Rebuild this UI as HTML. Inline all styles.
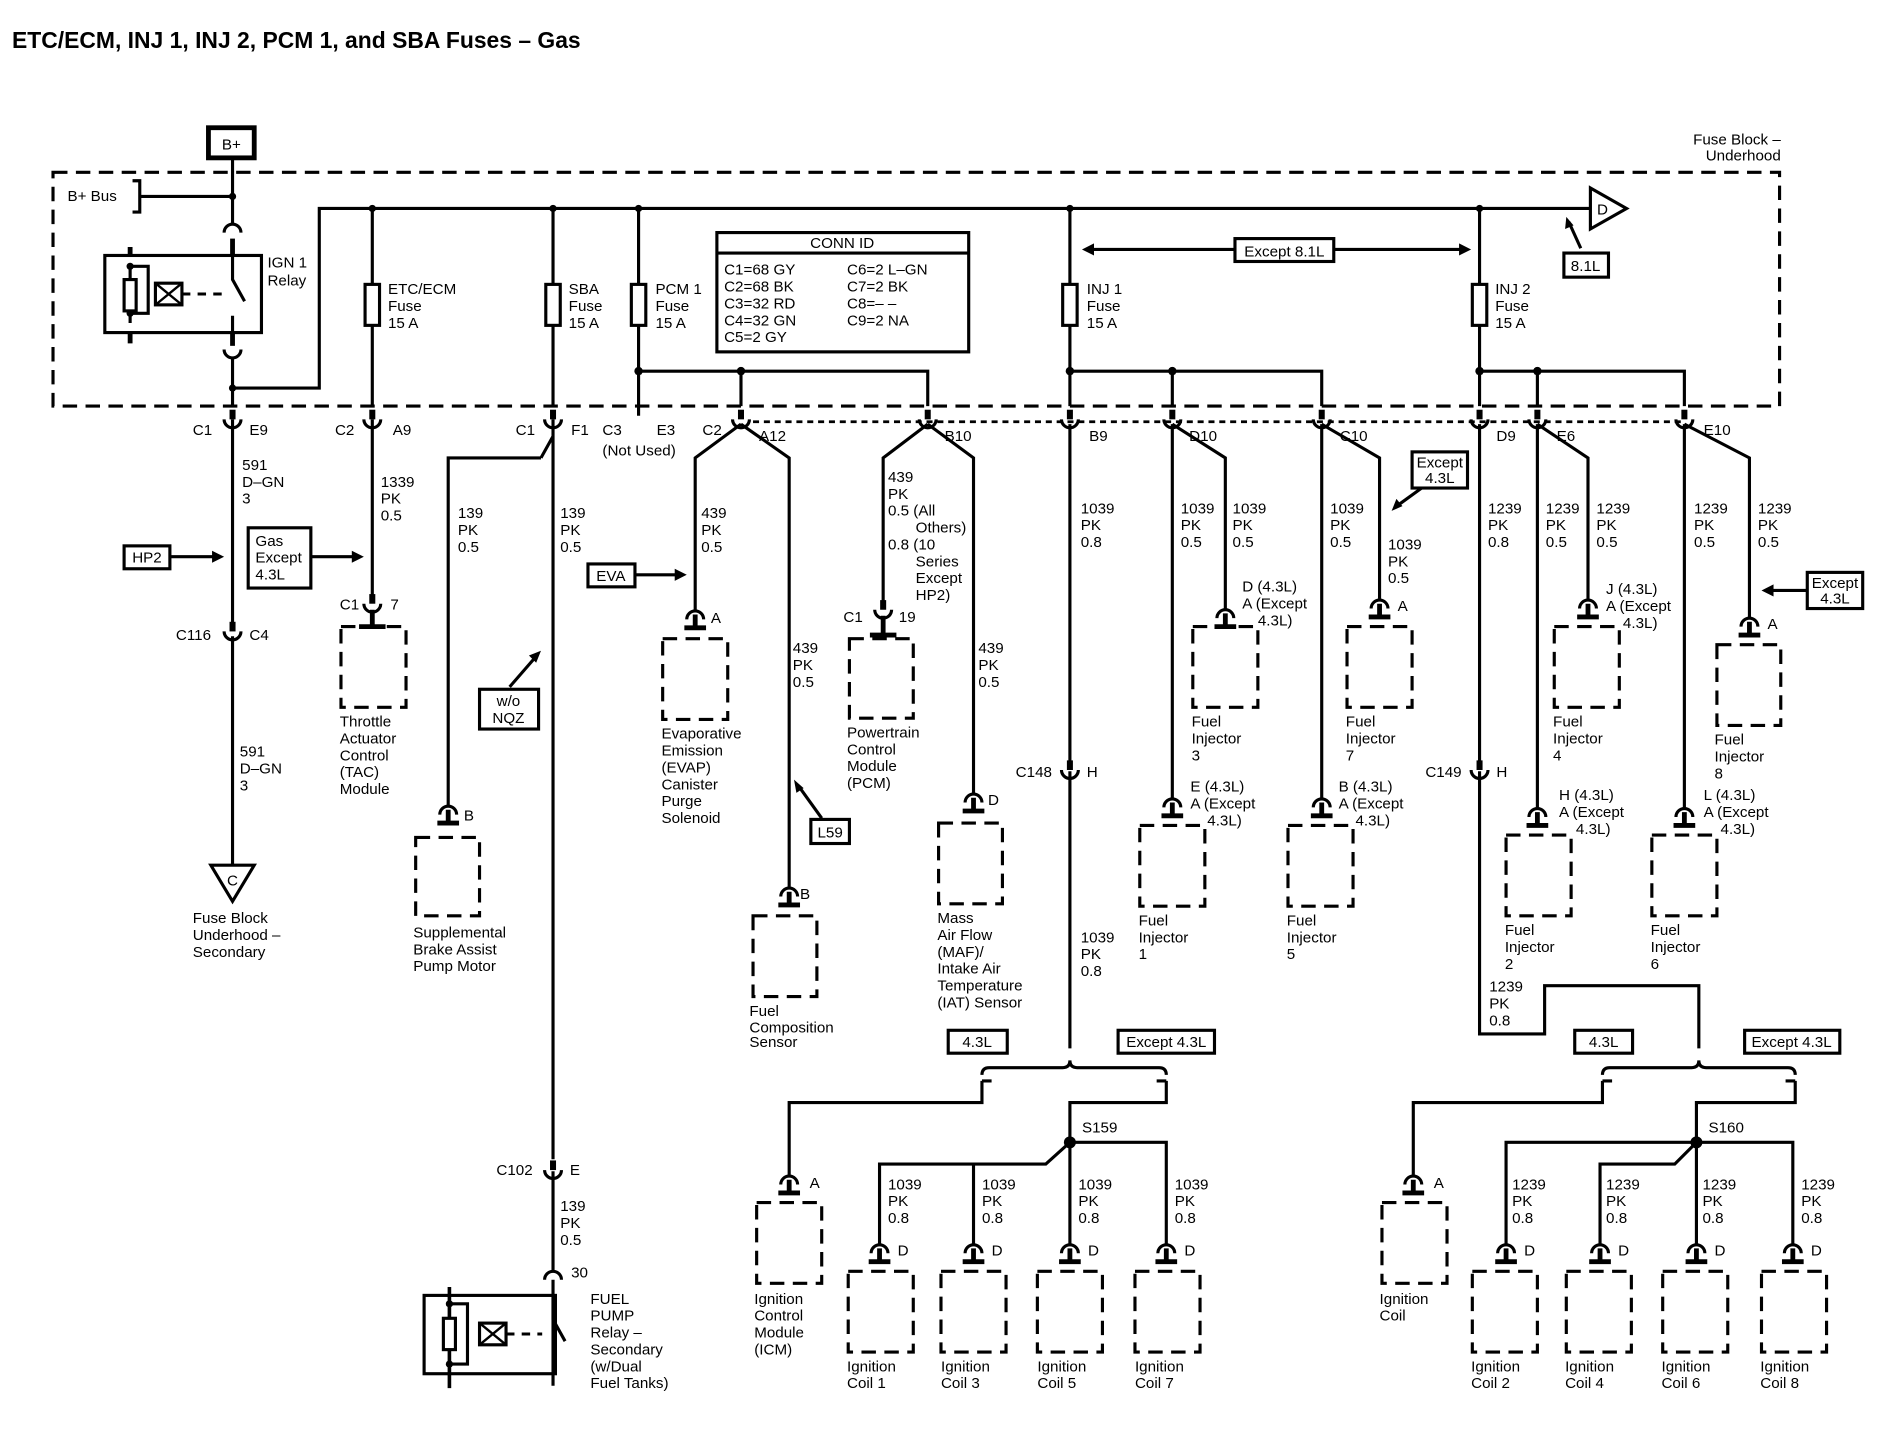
<!DOCTYPE html>
<html><head><meta charset="utf-8"><style>
html,body{margin:0;padding:0;background:#fff;}
svg{display:block}
text{font-family:"Liberation Sans",sans-serif;font-size:12.6px;fill:#000}
.w{stroke:#000;stroke-width:2.6;fill:none}
.d{stroke:#000;stroke-width:2.6;fill:none;stroke-dasharray:12 7}
.b{stroke:#000;stroke-width:2.6;fill:#fff}
</style></head><body>
<svg width="1888" height="1440" viewBox="0 0 1567 1195" preserveAspectRatio="none" xmlns="http://www.w3.org/2000/svg">
<defs>
<g id="term"><path d="M-7,8 A7,7 0 0 1 7,8" class="w"/><path d="M0,4 V15 M-9,15 H9" stroke="#000" stroke-width="4"/></g>
<g id="conn"><path d="M0,-12 V-4" stroke="#000" stroke-width="5"/><path d="M-7,-4 A7,7 0 0 0 7,-4" class="w"/></g>
</defs>
<text x="10" y="40" style="font-size:19px;font-weight:bold">ETC/ECM, INJ 1, INJ 2, PCM 1, and SBA Fuses – Gas</text>

<!-- fuse block -->
<rect x="44" y="143" width="1433" height="194" class="d"/>
<text x="1478" y="120" text-anchor="end">Fuse Block –</text>
<text x="1478" y="133" text-anchor="end">Underhood</text>
<rect x="173" y="106" width="38" height="25" fill="#fff" stroke="#000" stroke-width="4"/>
<text x="192" y="124" text-anchor="middle">B+</text>
<path d="M193,131 V186 M110,150 H116 V176 H110 M116,163 H193" class="w"/>
<text x="56" y="167">B+ Bus</text>
<circle cx="193" cy="163" r="3"/>
<path d="M186,193 A7,7 0 0 1 200,193" class="w"/>
<path d="M193,198 V212" stroke="#000" stroke-width="4"/>
<rect x="87" y="212" width="130" height="64" class="w"/>
<path d="M108,205 V212 M108,276 V285" stroke="#000" stroke-width="4"/>
<path d="M108,220 V268 M108,221 H123 V260 H108" class="w"/>
<circle cx="108" cy="221" r="3"/><circle cx="108" cy="260" r="3"/>
<rect x="103" y="232" width="10" height="26" class="b"/>
<rect x="129" y="235" width="22" height="18" class="b" stroke-width="2.6"/>
<path d="M129,235 L151,253 M151,235 L129,253" stroke="#000" stroke-width="2"/>
<path d="M151,244 H186" stroke="#000" stroke-width="2.5" stroke-dasharray="7 6"/>
<path d="M193,212 V232 L203,250 M193,262 V276" class="w"/>
<text x="222" y="222">IGN 1</text><text x="222" y="237">Relay</text>
<path d="M193,276 V287" stroke="#000" stroke-width="4"/>
<path d="M186,290 A7,7 0 0 0 200,290" class="w"/>
<path d="M193,297 V337 M193,322 H265 V173 H1320" class="w"/>
<circle cx="193" cy="322" r="3"/>
<path d="M1320,156 L1350,173 L1320,190 Z" class="b"/>
<text x="1330" y="178" text-anchor="middle">D</text>
<rect x="1298" y="210" width="37" height="20" class="b"/><text x="1316" y="225" text-anchor="middle">8.1L</text>
<path d="M1312,206 L1302,184" class="w"/><path d="M1300,180 l-1,10 l7,-3 z"/>

<!-- branches -->
<path d="M309,173 V337 M459,173 V337 M530,173 V345 M888,173 V337 M1228,173 V337" class="w"/>
<g fill="#000"><circle cx="309" cy="173" r="3"/><circle cx="459" cy="173" r="3"/><circle cx="530" cy="173" r="3"/><circle cx="888" cy="173" r="3"/><circle cx="1228" cy="173" r="3"/></g>
<rect x="303" y="236" width="12" height="34" class="b"/><rect x="453" y="236" width="12" height="34" class="b"/><rect x="524" y="236" width="12" height="34" class="b"/><rect x="882" y="236" width="12" height="34" class="b"/><rect x="1222" y="236" width="12" height="34" class="b"/>
<text x="322" y="244">ETC/ECM</text><text x="322" y="258">Fuse</text><text x="322" y="272">15 A</text>
<text x="472" y="244">SBA</text><text x="472" y="258">Fuse</text><text x="472" y="272">15 A</text>
<text x="544" y="244">PCM 1</text><text x="544" y="258">Fuse</text><text x="544" y="272">15 A</text>
<text x="902" y="244">INJ 1</text><text x="902" y="258">Fuse</text><text x="902" y="272">15 A</text>
<text x="1241" y="244">INJ 2</text><text x="1241" y="258">Fuse</text><text x="1241" y="272">15 A</text>

<rect x="595" y="193" width="209" height="99" class="w"/><path d="M595,210 H804" class="w"/>
<text x="699" y="206" text-anchor="middle">CONN ID</text>
<text x="601" y="228">C1=68 GY</text><text x="601" y="242">C2=68 BK</text><text x="601" y="256">C3=32 RD</text><text x="601" y="270">C4=32 GN</text><text x="601" y="284">C5=2 GY</text>
<text x="703" y="228">C6=2 L–GN</text><text x="703" y="242">C7=2 BK</text><text x="703" y="256">C8=– –</text><text x="703" y="270">C9=2 NA</text>

<path d="M905,207 H1213" class="w"/><path d="M898,207 l10,-5 v10 z M1221,207 l-10,-5 v10 z"/>
<rect x="1025" y="198" width="82" height="19" class="b"/><text x="1066" y="213" text-anchor="middle">Except 8.1L</text>

<path d="M530,308 H770 V337 M615,308 V337 M888,308 H1097 V337 M973,308 V337 M1228,308 H1398 V337 M1276,308 V337" class="w"/>
<g fill="#000"><circle cx="530" cy="308" r="3.5"/><circle cx="615" cy="308" r="3.5"/><circle cx="888" cy="308" r="3.5"/><circle cx="973" cy="308" r="3.5"/><circle cx="1228" cy="308" r="3.5"/><circle cx="1276" cy="308" r="3.5"/></g>
<path d="M625,350 H1398" stroke="#000" stroke-width="2.2" stroke-dasharray="5 4"/>

<!-- connector row -->
<use href="#conn" x="193" y="352"/><use href="#conn" x="309" y="352"/><use href="#conn" x="459" y="352"/><use href="#conn" x="615" y="352"/><use href="#conn" x="770" y="352"/><use href="#conn" x="888" y="352"/><use href="#conn" x="973" y="352"/><use href="#conn" x="1097" y="352"/><use href="#conn" x="1228" y="352"/><use href="#conn" x="1276" y="352"/><use href="#conn" x="1398" y="352"/>
<text x="160" y="361">C1</text><text x="207" y="361">E9</text>
<text x="278" y="361">C2</text><text x="326" y="361">A9</text>
<text x="428" y="361">C1</text><text x="474" y="361">F1</text>
<text x="500" y="361">C3</text><text x="545" y="361">E3</text><text x="500" y="378">(Not Used)</text>
<text x="583" y="361">C2</text><text x="630" y="366">A12</text>
<text x="784" y="366">B10</text><text x="904" y="366">B9</text><text x="987" y="366">D10</text><text x="1112" y="366">C10</text><text x="1242" y="366">D9</text><text x="1292" y="366">E6</text><text x="1414" y="361">E10</text>

<!-- IGN column -->
<path d="M193,348 V518 M193,528 V718" class="w"/>
<use href="#conn" x="193" y="528"/>
<text x="146" y="531">C116</text><text x="207" y="531">C4</text>
<text x="201" y="390">591</text><text x="201" y="404">D–GN</text><text x="201" y="418">3</text>
<text x="199" y="628">591</text><text x="199" y="642">D–GN</text><text x="199" y="656">3</text>
<path d="M175,718 H211 L193,748 Z" class="b"/><text x="193" y="735" text-anchor="middle">C</text>
<text x="160" y="766">Fuse Block</text><text x="160" y="780">Underhood –</text><text x="160" y="794">Secondary</text>
<rect x="103" y="453" width="38" height="19" class="b"/><text x="122" y="467" text-anchor="middle">HP2</text>
<path d="M141,462 H178" class="w"/><path d="M186,462 l-10,-5 v10 z"/>
<rect x="206" y="438" width="52" height="50" class="b"/><text x="212" y="453">Gas</text><text x="212" y="467">Except</text><text x="212" y="481">4.3L</text>
<path d="M258,462 H294" class="w"/><path d="M302,462 l-10,-5 v10 z"/>

<!-- ETC -->
<path d="M309,348 V500" class="w"/><use href="#conn" x="309" y="505"/>
<text x="282" y="506">C1</text><text x="324" y="506">7</text>
<text x="316" y="404">1339</text><text x="316" y="418">PK</text><text x="316" y="432">0.5</text>
<path d="M309,506 V520 M298,520 H320" stroke="#000" stroke-width="4"/>
<rect x="283" y="520" width="54" height="67" class="d"/>
<text x="282" y="603">Throttle</text><text x="282" y="617">Actuator</text><text x="282" y="631">Control</text><text x="282" y="645">(TAC)</text><text x="282" y="659">Module</text>

<!-- SBA -->
<path d="M459,348 V962 M459,972 V1055 M459,1062 V1150 M449,380 L459,362 M449,380 H372 V668" class="w"/>
<text x="380" y="430">139</text><text x="380" y="444">PK</text><text x="380" y="458">0.5</text>
<text x="465" y="430">139</text><text x="465" y="444">PK</text><text x="465" y="458">0.5</text>
<rect x="398" y="572" width="49" height="33" class="b"/><text x="422" y="586" text-anchor="middle">w/o</text><text x="422" y="600" text-anchor="middle">NQZ</text>
<path d="M423,570 L443,547" class="w"/><path d="M449,540 l-10,4 l6,6 z"/>
<use href="#term" x="372" y="668"/><text x="385" y="681">B</text>
<rect x="345" y="695" width="53" height="65" class="d"/>
<text x="343" y="778">Supplemental</text><text x="343" y="792">Brake Assist</text><text x="343" y="806">Pump Motor</text>
<use href="#conn" x="459" y="975"/><text x="412" y="975">C102</text><text x="473" y="975">E</text>
<text x="465" y="1005">139</text><text x="465" y="1019">PK</text><text x="465" y="1033">0.5</text>
<path d="M452,1062 A7,7 0 0 1 466,1062" class="w"/><text x="474" y="1060">30</text>
<rect x="352" y="1075" width="109" height="65" class="w"/>
<path d="M373,1068 V1152" stroke="#000" stroke-width="3"/>
<path d="M373,1082 H388 V1132 H373" class="w"/>
<circle cx="373" cy="1082" r="3"/><circle cx="373" cy="1132" r="3"/>
<rect x="368" y="1094" width="10" height="26" class="b"/>
<rect x="398" y="1098" width="22" height="18" class="b"/><path d="M398,1098 L420,1116 M420,1098 L398,1116" stroke="#000" stroke-width="2"/>
<path d="M420,1107 H450" stroke="#000" stroke-width="2.5" stroke-dasharray="7 6"/>
<path d="M459,1075 V1095 L469,1113" class="w"/>
<text x="490" y="1082">FUEL</text><text x="490" y="1096">PUMP</text><text x="490" y="1110">Relay –</text><text x="490" y="1124">Secondary</text><text x="490" y="1138">(w/Dual</text><text x="490" y="1152">Fuel Tanks)</text>

<!-- PCM1 A12 -->
<path d="M615,352 L577,380 V506 M615,352 L655,380 V736" class="w"/>
<text x="582" y="430">439</text><text x="582" y="444">PK</text><text x="582" y="458">0.5</text>
<rect x="488" y="468" width="39" height="19" class="b"/><text x="507" y="482" text-anchor="middle">EVA</text>
<path d="M527,477 H562" class="w"/><path d="M570,477 l-10,-5 v10 z"/>
<use href="#term" x="577" y="506"/><text x="590" y="517">A</text>
<rect x="550" y="530" width="54" height="67" class="d"/>
<text x="549" y="613">Evaporative</text><text x="549" y="627">Emission</text><text x="549" y="641">(EVAP)</text><text x="549" y="655">Canister</text><text x="549" y="669">Purge</text><text x="549" y="683">Solenoid</text>
<text x="658" y="542">439</text><text x="658" y="556">PK</text><text x="658" y="570">0.5</text>
<rect x="673" y="680" width="32" height="20" class="b"/><text x="689" y="695" text-anchor="middle">L59</text>
<path d="M682,679 L664,654" class="w"/><path d="M659,647 l2,11 l6,-4 z"/>
<use href="#term" x="655" y="736"/><text x="664" y="746">B</text>
<rect x="625" y="760" width="53" height="67" class="d"/>
<text x="622" y="843">Fuel</text><text x="622" y="857">Composition</text><text x="622" y="869">Sensor</text>

<!-- B10 -->
<path d="M770,352 L733,380 V500 M770,352 L808,380 V660" class="w"/>
<use href="#conn" x="733" y="510"/><text x="700" y="516">C1</text><text x="746" y="516">19</text>
<path d="M733,511 V527 M722,527 H744" stroke="#000" stroke-width="4"/>
<rect x="705" y="530" width="53" height="66" class="d"/>
<text x="703" y="612">Powertrain</text><text x="703" y="626">Control</text><text x="703" y="640">Module</text><text x="703" y="654">(PCM)</text>
<text x="737" y="400">439</text><text x="737" y="414">PK</text><text x="737" y="428">0.5 (All</text><text x="760" y="442">Others)</text><text x="737" y="456">0.8 (10</text><text x="760" y="470">Series</text><text x="760" y="484">Except</text><text x="760" y="498">HP2)</text>
<text x="812" y="542">439</text><text x="812" y="556">PK</text><text x="812" y="570">0.5</text>
<use href="#term" x="808" y="658"/><text x="820" y="668">D</text>
<rect x="779" y="683" width="53" height="67" class="d"/>
<text x="778" y="766">Mass</text><text x="778" y="780">Air Flow</text><text x="778" y="794">(MAF)/</text><text x="778" y="808">Intake Air</text><text x="778" y="822">Temperature</text><text x="778" y="836">(IAT) Sensor</text>

<!-- INJ1 -->
<path d="M888,352 V632 M888,640 V870" class="w"/>
<use href="#conn" x="888" y="643"/><text x="843" y="645">C148</text><text x="902" y="645">H</text>
<text x="897" y="426">1039</text><text x="897" y="440">PK</text><text x="897" y="454">0.8</text>
<text x="897" y="782">1039</text><text x="897" y="796">PK</text><text x="897" y="810">0.8</text>
<rect x="787" y="855" width="49" height="19" class="b"/><text x="811" y="869" text-anchor="middle">4.3L</text>
<rect x="928" y="855" width="80" height="19" class="b"/><text x="968" y="869" text-anchor="middle">Except 4.3L</text>
<path d="M815,892 q0,-6 6,-6 H882 q6,0 6,-6 q0,6 6,6 H962 q6,0 6,6" class="w"/>
<path d="M815,897 h8 M815,897 V915 H655 V975 M968,897 h-8 M968,897 V915 H888 V948" class="w"/>
<circle cx="888" cy="948" r="5"/><text x="898" y="940">S159</text>
<path d="M888,948 V1032 M888,948 H968 V1032 M888,948 L868,966 H808 V1032 M868,966 H730 V1032" class="w"/>
<use href="#term" x="655" y="975"/><text x="672" y="986">A</text>
<rect x="628" y="998" width="54" height="67" class="d"/>
<text x="626" y="1082">Ignition</text><text x="626" y="1096">Control</text><text x="626" y="1110">Module</text><text x="626" y="1124">(ICM)</text>
<use href="#term" x="730" y="1032"/><use href="#term" x="808" y="1032"/><use href="#term" x="888" y="1032"/><use href="#term" x="968" y="1032"/>
<rect x="704" y="1055" width="54" height="67" class="d"/><rect x="781" y="1055" width="54" height="67" class="d"/><rect x="861" y="1055" width="54" height="67" class="d"/><rect x="942" y="1055" width="54" height="67" class="d"/>
<text x="745" y="1042">D</text><text x="823" y="1042">D</text><text x="903" y="1042">D</text><text x="983" y="1042">D</text>
<text x="737" y="987">1039</text><text x="737" y="1001">PK</text><text x="737" y="1015">0.8</text>
<text x="815" y="987">1039</text><text x="815" y="1001">PK</text><text x="815" y="1015">0.8</text>
<text x="895" y="987">1039</text><text x="895" y="1001">PK</text><text x="895" y="1015">0.8</text>
<text x="975" y="987">1039</text><text x="975" y="1001">PK</text><text x="975" y="1015">0.8</text>
<text x="703" y="1138">Ignition</text><text x="703" y="1152">Coil 1</text>
<text x="781" y="1138">Ignition</text><text x="781" y="1152">Coil 3</text>
<text x="861" y="1138">Ignition</text><text x="861" y="1152">Coil 5</text>
<text x="942" y="1138">Ignition</text><text x="942" y="1152">Coil 7</text>

<!-- D10 / C10 -->
<path d="M973,352 V662 M973,352 L1017,380 V505 M1097,352 V662 M1097,352 L1145,380 V497" class="w"/>
<text x="980" y="426">1039</text><text x="980" y="440">PK</text><text x="980" y="454">0.5</text>
<text x="1023" y="426">1039</text><text x="1023" y="440">PK</text><text x="1023" y="454">0.5</text>
<text x="1104" y="426">1039</text><text x="1104" y="440">PK</text><text x="1104" y="454">0.5</text>
<text x="1152" y="456">1039</text><text x="1152" y="470">PK</text><text x="1152" y="484">0.5</text>
<use href="#term" x="1017" y="505"/><text x="1031" y="491">D (4.3L)</text><text x="1031" y="505">A (Except</text><text x="1044" y="519">4.3L)</text>
<rect x="990" y="520" width="54" height="67" class="d"/>
<text x="989" y="603">Fuel</text><text x="989" y="617">Injector</text><text x="989" y="631">3</text>
<use href="#term" x="973" y="662"/><text x="988" y="657">E (4.3L)</text><text x="988" y="671">A (Except</text><text x="1002" y="685">4.3L)</text>
<rect x="946" y="685" width="54" height="67" class="d"/>
<text x="945" y="768">Fuel</text><text x="945" y="782">Injector</text><text x="945" y="796">1</text>
<use href="#term" x="1145" y="497"/><text x="1160" y="507">A</text>
<rect x="1118" y="520" width="54" height="67" class="d"/>
<text x="1117" y="603">Fuel</text><text x="1117" y="617">Injector</text><text x="1117" y="631">7</text>
<use href="#term" x="1097" y="662"/><text x="1111" y="657">B (4.3L)</text><text x="1111" y="671">A (Except</text><text x="1125" y="685">4.3L)</text>
<rect x="1069" y="685" width="54" height="67" class="d"/>
<text x="1068" y="768">Fuel</text><text x="1068" y="782">Injector</text><text x="1068" y="796">5</text>
<rect x="1172" y="375" width="46" height="30" class="b"/><text x="1195" y="388" text-anchor="middle">Except</text><text x="1195" y="401" text-anchor="middle">4.3L</text>
<path d="M1180,405 L1162,418" class="w"/><path d="M1155,424 l4,-10 l5,6 z"/>

<!-- INJ2 -->
<path d="M1228,352 V632 M1228,640 V858 H1282 V818 H1410 V870" class="w"/>
<use href="#conn" x="1228" y="643"/><text x="1183" y="645">C149</text><text x="1242" y="645">H</text>
<text x="1235" y="426">1239</text><text x="1235" y="440">PK</text><text x="1235" y="454">0.8</text>
<text x="1236" y="823">1239</text><text x="1236" y="837">PK</text><text x="1236" y="851">0.8</text>
<rect x="1307" y="855" width="48" height="19" class="b"/><text x="1331" y="869" text-anchor="middle">4.3L</text>
<rect x="1448" y="855" width="79" height="19" class="b"/><text x="1487" y="869" text-anchor="middle">Except 4.3L</text>
<path d="M1330,892 q0,-6 6,-6 H1404 q6,0 6,-6 q0,6 6,6 H1484 q6,0 6,6" class="w"/>
<path d="M1330,897 h8 M1330,897 V915 H1173 V975 M1490,897 h-8 M1490,897 V915 H1408 V948" class="w"/>
<circle cx="1408" cy="948" r="5"/><text x="1418" y="940">S160</text>
<path d="M1408,948 V1032 M1408,948 H1488 V1032 M1408,948 H1250 V1032 M1408,948 L1390,966 H1328 V1032" class="w"/>
<use href="#term" x="1173" y="975"/><text x="1190" y="986">A</text>
<rect x="1147" y="998" width="54" height="67" class="d"/>
<text x="1145" y="1082">Ignition</text><text x="1145" y="1096">Coil</text>
<use href="#term" x="1250" y="1032"/><use href="#term" x="1328" y="1032"/><use href="#term" x="1408" y="1032"/><use href="#term" x="1488" y="1032"/>
<rect x="1222" y="1055" width="54" height="67" class="d"/><rect x="1300" y="1055" width="54" height="67" class="d"/><rect x="1380" y="1055" width="54" height="67" class="d"/><rect x="1462" y="1055" width="54" height="67" class="d"/>
<text x="1265" y="1042">D</text><text x="1343" y="1042">D</text><text x="1423" y="1042">D</text><text x="1503" y="1042">D</text>
<text x="1255" y="987">1239</text><text x="1255" y="1001">PK</text><text x="1255" y="1015">0.8</text>
<text x="1333" y="987">1239</text><text x="1333" y="1001">PK</text><text x="1333" y="1015">0.8</text>
<text x="1413" y="987">1239</text><text x="1413" y="1001">PK</text><text x="1413" y="1015">0.8</text>
<text x="1495" y="987">1239</text><text x="1495" y="1001">PK</text><text x="1495" y="1015">0.8</text>
<text x="1221" y="1138">Ignition</text><text x="1221" y="1152">Coil 2</text>
<text x="1299" y="1138">Ignition</text><text x="1299" y="1152">Coil 4</text>
<text x="1379" y="1138">Ignition</text><text x="1379" y="1152">Coil 6</text>
<text x="1461" y="1138">Ignition</text><text x="1461" y="1152">Coil 8</text>

<!-- E6 / E10 -->
<path d="M1276,352 V670 M1276,352 L1318,380 V497 M1398,352 V670 M1398,352 L1452,380 V512" class="w"/>
<text x="1283" y="426">1239</text><text x="1283" y="440">PK</text><text x="1283" y="454">0.5</text>
<text x="1325" y="426">1239</text><text x="1325" y="440">PK</text><text x="1325" y="454">0.5</text>
<text x="1406" y="426">1239</text><text x="1406" y="440">PK</text><text x="1406" y="454">0.5</text>
<text x="1459" y="426">1239</text><text x="1459" y="440">PK</text><text x="1459" y="454">0.5</text>
<use href="#term" x="1318" y="497"/><text x="1333" y="493">J (4.3L)</text><text x="1333" y="507">A (Except</text><text x="1347" y="521">4.3L)</text>
<rect x="1290" y="520" width="54" height="67" class="d"/>
<text x="1289" y="603">Fuel</text><text x="1289" y="617">Injector</text><text x="1289" y="631">4</text>
<use href="#term" x="1276" y="670"/><text x="1294" y="664">H (4.3L)</text><text x="1294" y="678">A (Except</text><text x="1308" y="692">4.3L)</text>
<rect x="1250" y="693" width="54" height="67" class="d"/>
<text x="1249" y="776">Fuel</text><text x="1249" y="790">Injector</text><text x="1249" y="804">2</text>
<use href="#term" x="1452" y="512"/><text x="1467" y="522">A</text>
<rect x="1425" y="535" width="53" height="67" class="d"/>
<text x="1423" y="618">Fuel</text><text x="1423" y="632">Injector</text><text x="1423" y="646">8</text>
<use href="#term" x="1398" y="670"/><text x="1414" y="664">L (4.3L)</text><text x="1414" y="678">A (Except</text><text x="1428" y="692">4.3L)</text>
<rect x="1371" y="693" width="54" height="67" class="d"/>
<text x="1370" y="776">Fuel</text><text x="1370" y="790">Injector</text><text x="1370" y="804">6</text>
<rect x="1500" y="475" width="46" height="30" class="b"/><text x="1523" y="488" text-anchor="middle">Except</text><text x="1523" y="501" text-anchor="middle">4.3L</text>
<path d="M1500,490 H1470" class="w"/><path d="M1462,490 l10,-5 v10 z"/>
</svg>
</body></html>
